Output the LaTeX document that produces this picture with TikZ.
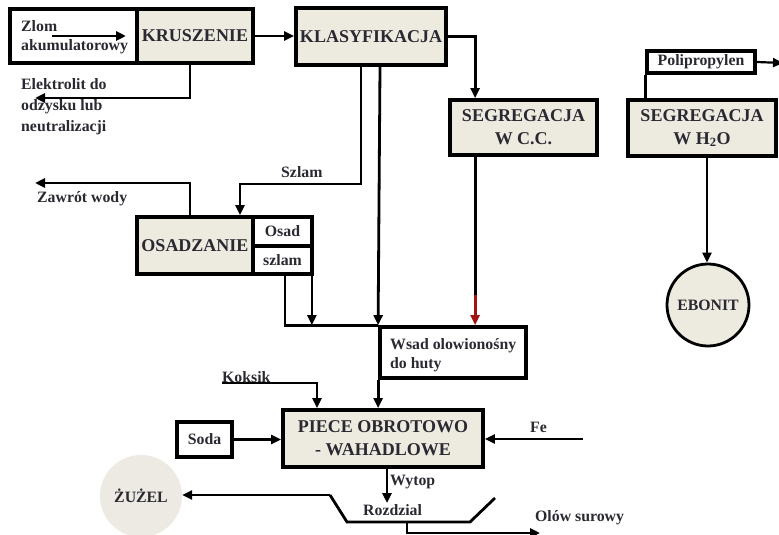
\documentclass[tikz,border=0pt]{standalone}
\usepackage{fontspec}
\setmainfont{Liberation Serif}
\usetikzlibrary{arrows.meta}
\definecolor{boxfill}{RGB}{237,235,224}
\definecolor{circfill}{RGB}{236,234,226}
\definecolor{txt}{RGB}{42,40,48}
\definecolor{redline}{RGB}{160,20,20}
\begin{document}
\begin{tikzpicture}[x=1pt,y=-1pt,
  every node/.style={text=txt, font=\bfseries\fontsize{15.8}{19}\selectfont},
  proc/.style={draw, line width=3.8pt, fill=boxfill, inner sep=0pt, align=center, font=\bfseries\fontsize{18}{23}\selectfont},
  wbox/.style={draw, line width=3.8pt, fill=white, inner sep=0pt},
  conn/.style={line width=2.8pt},
  arr/.style={conn, -{Triangle[length=10pt,width=9pt]}},
  lbl/.style={inner sep=0pt, anchor=west, align=left}
]
\useasboundingbox (0,0) rectangle (779,535);
% boxes
\node[wbox, minimum width=127pt, minimum height=54pt] (zlom) at (73.5,36) {};
\node[proc, minimum width=116pt, minimum height=54pt] (krus) at (195,36) {KRUSZENIE};
\node[proc, minimum width=150pt, minimum height=57pt] (klas) at (371,36.5) {KLASYFIKACJA};
\node[proc, minimum width=147pt, minimum height=55pt] (segcc) at (523.5,127.5) {SEGREGACJA\\W C.C.};
\node[proc, minimum width=116pt, minimum height=57pt] (osad) at (195,245.5) {OSADZANIE};
\node[wbox, minimum width=59pt, minimum height=29pt] (osadb) at (282.5,231.5) {Osad};
\node[wbox, minimum width=59pt, minimum height=28pt] (szlamb) at (282.5,260) {szlam};
\node[wbox, minimum width=146pt, minimum height=51pt] (wsad) at (453,352.5) {};
\node[lbl] (wsadt) at (390,355) {Wsad olowionośny\\do huty};
\node[proc, minimum width=200pt, minimum height=57pt] (piece) at (383,438.5) {PIECE OBROTOWO\\- WAHADLOWE};
\node[wbox, minimum width=55pt, minimum height=35pt] (soda) at (204.5,439.5) {Soda};
\node[circle, fill=circfill, minimum size=82pt, inner sep=0pt] (zuzel) at (141,496) {ŻUŻEL};
\node[wbox, minimum width=108pt, minimum height=22pt] (poli) at (701,62) {Polipropylen};
\node[proc, minimum width=148pt, minimum height=56pt] (seghh) at (702,128) {SEGREGACJA\\W H\textsubscript{2}O};
\node[circle, draw, line width=2.8pt, fill=boxfill, minimum size=82pt, inner sep=0pt] (ebonit) at (708,305) {EBONIT};
% labels
\node[lbl] (zlomt) at (21,37) {Zlom\\akumulatorowy};
\node[lbl, font=\bfseries\fontsize{15.8}{21}\selectfont] (elekt) at (21,107) {Elektrolit do\\odzysku lub\\neutralizacji};
\node[lbl] (szlamt) at (281,172) {Szlam};
\node[lbl] (zawt) at (37,199) {Zawrót wody};
\node[lbl] (koksikt) at (222,377) {Koksik};
\node[lbl] (fet) at (530,427) {Fe};
\node[lbl] (wytopt) at (390,482) {Wytop};
\node[lbl] (rozt) at (363,510) {Rozdzial};
\node[lbl] (olowt) at (535,518) {Olów surowy};
% coordinates
\coordinate (za) at (52,36);
\coordinate (zb) at (126,36);
\coordinate (elek) at (35,98);
\coordinate (zawrot) at (35,183);
\coordinate (koks) at (222,383);
\coordinate (fe) at (583,439);
\coordinate (wyt) at (387,503);
\coordinate (tl) at (330,495);
\coordinate (bl) at (347,522);
\coordinate (br) at (470,522);
\coordinate (tr) at (495,498);
\coordinate (ol1) at (407,522);
\coordinate (ol2) at (540,533);
\coordinate (pp) at (783,63);
% connectors
\draw[arr] (za) -- (zb);
\draw[arr] (krus.east) -- (krus.east -| klas.west);
\draw[arr] ([xshift=-5pt]krus.south) |- (elek);
\draw[arr] (klas.east) -| ([xshift=27pt]segcc.north west);
\draw[arr] ([xshift=-10pt]klas.south) -- ++(0,117) -| ([xshift=45pt]osad.north);
\draw[arr] ([xshift=-5pt]osad.north) |- (zawrot);
\draw[arr] ([xshift=9pt]klas.south) -- (wsad.north west);
\draw[arr] (wsad.south west) -- (wsad.south west |- piece.north);
\draw[conn] ([xshift=27pt]segcc.south west) -- ++(0,138) coordinate (redstart);
\draw[arr, draw=redline] (redstart) -- (redstart |- wsad.north);
\draw[conn] ([xshift=2.5pt]szlamb.south) |- (wsad.north west);
\draw[arr] ([xshift=-2pt]szlamb.south east) -- ([xshift=-2pt]szlamb.south east |- wsad.north);
\draw[arr] (koks) -| ([xshift=-66pt]piece.north);
\draw[arr] (soda.east) -- (soda.east -| piece.west);
\draw[arr] (fe) -- (fe -| piece.east);
\draw[arr] (piece.south -| wyt) -- (wyt);
\draw[conn] (tr) -- (br) -- (bl) -- (tl);
\draw[arr] (tl) -- (tl -| zuzel.east);
\draw[arr] (ol1) |- (ol2);
\draw[conn] (poli.south west) -- (poli.south west |- seghh.north);
\draw[arr, line width=2.2pt] (poli.east) -- (pp);
\draw[arr] ([xshift=5pt]seghh.south) -- ([xshift=5pt]seghh.south |- ebonit.north);
\end{tikzpicture}
\end{document}
